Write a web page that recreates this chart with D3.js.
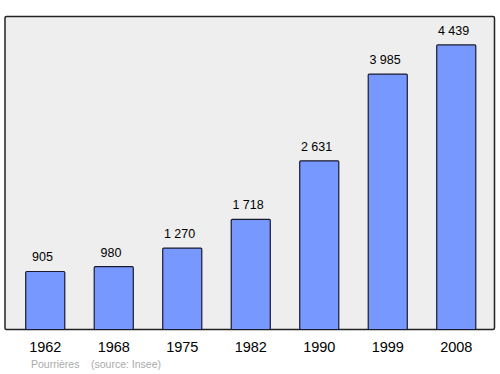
<!DOCTYPE html>
<html>
<head>
<meta charset="utf-8">
<script src="https://cdn.jsdelivr.net/npm/d3@7"></script>
<style>
  body { margin: 0; background: #fff; }
</style>
</head>
<body>
<div id="chart"></div>
<script>
const FONT = "Liberation Sans, Arial, sans-serif";
const COLOR_BAR = "#7799ff";
const COLOR_FRAME = "#eeeeee";

const years = ["1962", "1968", "1975", "1982", "1990", "1999", "2008"];
const population = [905, 980, 1270, 1718, 2631, 3985, 4439];
const labels = ["905", "980", "1 270", "1 718", "2 631", "3 985", "4 439"];

const W = 500, H = 374;
const frame = { left: 5, top: 16.5, right: 494.5, bottom: 329.5 };

const svg = d3.select("#chart").append("svg")
    .attr("width", W)
    .attr("height", H)
    .attr("font-family", FONT);

// background frame
svg.append("rect")
    .attr("x", frame.left)
    .attr("y", frame.top)
    .attr("width", frame.right - frame.left)
    .attr("height", frame.bottom - frame.top)
    .attr("rx", 1.5)
    .attr("fill", COLOR_FRAME)
    .attr("stroke", "#222")
    .attr("stroke-width", 1.5);

const x = d3.scaleBand()
    .domain(years)
    .range([11, 490.5])
    .paddingInner(0.43)
    .paddingOuter(0.215);

const y = d3.scaleLinear()
    .domain([0, d3.max(population) * 1.1])
    .range([frame.bottom, frame.top]);

// bars
svg.append("g").selectAll("rect")
    .data(years).enter().append("rect")
    .attr("x", d => x(d))
    .attr("y", (d, i) => y(population[i]))
    .attr("width", x.bandwidth())
    .attr("height", (d, i) => y(0) - y(population[i]))
    .attr("rx", 1)
    .attr("fill", COLOR_BAR)
    .attr("stroke", "#1a1a2e")
    .attr("stroke-width", 1.2);

// value labels (sit a little left of bar centre, as in the original)
svg.append("g").selectAll("text")
    .data(years).enter().append("text")
    .attr("x", d => x(d) + x.bandwidth() / 2)
    .attr("dx", -2.7)
    .attr("y", (d, i) => y(population[i]) - 10)
    .attr("text-anchor", "middle")
    .attr("font-size", "12.5px")
    .attr("fill", "#000")
    .text((d, i) => labels[i]);

// x axis (labels only)
const axisX = d3.axisBottom(x).tickSize(0).tickPadding(0);
svg.append("g")
    .attr("transform", "translate(0," + frame.bottom + ")")
    .call(axisX)
    .call(g => {
        g.select(".domain").remove();
        g.selectAll("text")
            .attr("y", 0)
            .attr("dy", "22.5px")
            .attr("font-size", "14.5px")
            .attr("font-family", FONT)
            .attr("fill", "#000");
    });

// footer
svg.append("text")
    .attr("x", 31)
    .attr("y", 368)
    .attr("font-size", "10.5px")
    .attr("fill", "#aaaaaa")
    .text("Pourrières");
svg.append("text")
    .attr("x", 91)
    .attr("y", 368)
    .attr("font-size", "10.5px")
    .attr("fill", "#aaaaaa")
    .text("(source: Insee)");
</script>
</body>
</html>
